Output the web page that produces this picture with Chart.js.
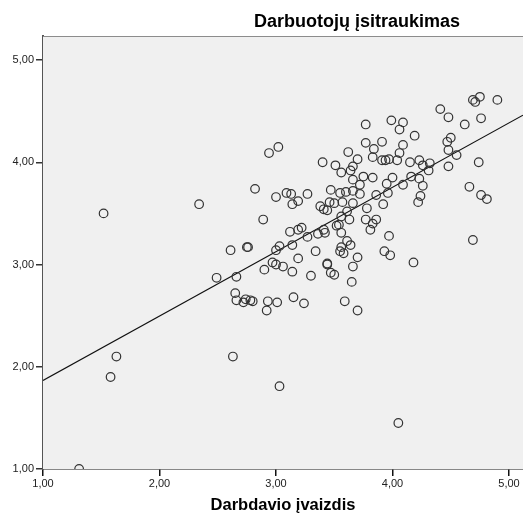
<!DOCTYPE html>
<html>
<head>
<meta charset="utf-8">
<script src="https://cdn.jsdelivr.net/npm/chart.js@4/dist/chart.umd.min.js"></script>
<style>
  body { margin: 0; background: #fff; }
  #wrap { width: 523px; height: 515px; }
</style>
</head>
<body>
<div id="wrap"><canvas id="scatterChart"></canvas></div>
<script>
// Darbdavio ivaizdis (x) vs Darbuotoju isitraukimas (y), one pair per respondent
var imageScores = [
    1.31, 1.52, 1.63, 1.58, 2.34, 2.61, 2.49, 2.66, 2.65, 2.66,
    2.63, 3.03, 4.05, 2.94, 3.02, 2.82, 3.00, 3.09, 3.13, 3.14,
    3.19, 3.27, 3.40, 3.51, 3.56, 3.62, 3.66, 3.64, 3.70, 3.77,
    3.84, 3.83, 3.66, 3.75, 3.72, 3.83, 3.47, 3.55, 3.60, 3.66,
    3.72, 3.86, 3.66, 3.46, 3.50, 3.57, 3.38, 3.41, 3.44, 3.78,
    2.89, 3.12, 3.19, 3.22, 3.27, 3.36, 3.41, 3.42, 3.52, 3.54,
    3.56, 3.61, 3.63, 3.56, 3.77, 3.83, 3.81, 3.86, 2.75, 3.00,
    3.03, 3.14, 3.34, 3.61, 3.64, 3.56, 3.55, 3.58, 3.19, 2.97,
    3.00, 3.06, 2.90, 3.14, 3.44, 3.47, 3.50, 3.70, 3.66, 3.30,
    3.65, 2.72, 2.74, 2.78, 2.80, 2.93, 3.01, 2.92, 3.15, 3.24,
    3.59, 3.70, 3.77, 4.41, 4.48, 4.69, 4.71, 4.75, 4.90, 4.76,
    4.62, 3.99, 4.09, 4.06, 4.19, 3.91, 4.09, 3.91, 3.94, 3.97,
    4.04, 4.06, 4.15, 4.23, 4.26, 4.32, 4.31, 4.47, 4.50, 4.48,
    4.55, 4.48, 4.74, 4.66, 4.76, 4.81, 4.00, 3.95, 4.09, 4.16,
    4.23, 4.26, 4.24, 4.22, 3.96, 3.92, 3.97, 3.93, 3.98, 4.18,
    4.69, 3.44, 2.76
];
var engagementScores = [
    1.00, 3.50, 2.10, 1.90, 3.59, 3.14, 2.87, 2.88, 2.72, 2.65,
    2.10, 1.81, 1.45, 4.09, 4.15, 3.74, 3.66, 3.70, 3.69, 3.59,
    3.62, 3.69, 4.00, 3.97, 3.90, 4.10, 3.96, 3.92, 4.03, 4.19,
    4.13, 4.05, 3.83, 3.86, 3.78, 3.85, 3.73, 3.70, 3.71, 3.72,
    3.69, 3.68, 3.60, 3.61, 3.60, 3.61, 3.57, 3.54, 3.53, 3.55,
    3.44, 3.32, 3.34, 3.36, 3.27, 3.30, 3.34, 3.31, 3.38, 3.39,
    3.47, 3.52, 3.44, 3.31, 3.44, 3.40, 3.34, 3.44, 3.17, 3.14,
    3.18, 3.19, 3.13, 3.23, 3.19, 3.17, 3.13, 3.11, 3.06, 3.02,
    3.00, 2.98, 2.95, 2.93, 3.01, 2.92, 2.90, 3.07, 2.98, 2.89,
    2.83, 2.63, 2.66, 2.65, 2.64, 2.64, 2.63, 2.55, 2.68, 2.62,
    2.64, 2.55, 4.37, 4.52, 4.44, 4.61, 4.59, 4.64, 4.61, 4.43,
    4.37, 4.41, 4.39, 4.32, 4.26, 4.20, 4.17, 4.02, 4.02, 4.03,
    4.02, 4.09, 4.00, 4.02, 3.97, 3.99, 3.92, 4.20, 4.24, 4.12,
    4.07, 3.96, 4.00, 3.76, 3.68, 3.64, 3.85, 3.79, 3.78, 3.86,
    3.84, 3.77, 3.67, 3.61, 3.70, 3.59, 3.28, 3.13, 3.09, 3.02,
    3.24, 3.00, 3.17
];

var xTicks = [1, 2, 3, 4, 5];
var yTicks = [1, 2, 3, 4, 5];

// fit line
var fitIntercept = 1.235;
var fitSlope = 0.63;

var xMin = 1, xMax = 5.12;
var yMin = 1, yMax = 5.235;

var points = imageScores.map(function (x, i) {
    return { x: x, y: engagementScores[i] };
});
var fitLine = [
    { x: xMin, y: fitIntercept + fitSlope * xMin },
    { x: xMax, y: fitIntercept + fitSlope * xMax }
];

function commaLabel(v) {
    return v.toFixed(2).replace('.', ',');
}

var plotFrame = {
    id: 'plotFrame',
    beforeDatasetsDraw: function (chart) {
        var a = chart.chartArea, c = chart.ctx;
        c.save();
        c.fillStyle = '#f0f0f0';
        c.fillRect(a.left, a.top, a.right - a.left, a.bottom - a.top);
        c.strokeStyle = '#8c8c8c';
        c.lineWidth = 1;
        c.beginPath();
        c.moveTo(a.left, a.top + 0.5);
        c.lineTo(a.right, a.top + 0.5);
        c.stroke();
        c.restore();
    },
    afterDraw: function (chart) {
        var a = chart.chartArea, c = chart.ctx;
        c.save();
        c.fillStyle = '#000';
        c.font = 'bold 18px "Liberation Sans", Arial, sans-serif';
        c.textAlign = 'center';
        c.textBaseline = 'middle';
        c.fillText('Darbuotojų įsitraukimas', a.left + (a.right - a.left) * 0.654, 22);
        c.restore();
    }
};

var ctx = document.getElementById('scatterChart').getContext('2d');
var chart = new Chart(ctx, {
    type: 'scatter',
    data: {
        datasets: [{
            label: 'Respondentai',
            data: points,
            pointRadius: 4.3,
            pointHoverRadius: 4.3,
            pointBorderWidth: 1.2,
            borderColor: '#333333',
            backgroundColor: 'rgba(0,0,0,0)'
        }, {
            type: 'line',
            label: 'Fit',
            data: fitLine,
            borderColor: '#111111',
            borderWidth: 1.2,
            pointRadius: 0,
            fill: false
        }]
    },
    options: {
        responsive: true,
        maintainAspectRatio: false,
        animation: false,
        layout: {
            autoPadding: false,
            padding: { top: 36, right: 0, bottom: 0, left: 0 }
        },
        plugins: {
            legend: { display: false },
            tooltip: { enabled: false }
        },
        scales: {
            x: {
                type: 'linear',
                min: xMin,
                max: xMax,
                afterBuildTicks: function (scale) {
                    scale.ticks = xTicks.map(function (v) { return { value: v }; });
                },
                afterFit: function (scale) {
                    scale.height = 46;
                    scale.paddingLeft = 0;
                    scale.paddingRight = 0;
                },
                border: { display: true, color: '#111', width: 1.5 },
                grid: { display: true, drawOnChartArea: false, drawTicks: true, tickLength: 7, color: '#111', lineWidth: 1.5 },
                ticks: {
                    padding: 1,
                    maxRotation: 0,
                    color: '#222',
                    font: { family: '"Liberation Sans", Arial, sans-serif', size: 11 },
                    callback: commaLabel
                },
                title: {
                    display: true,
                    text: 'Darbdavio įvaizdis',
                    color: '#000',
                    font: { family: '"Liberation Sans", Arial, sans-serif', size: 16.5, weight: 'bold' },
                    padding: { top: 4, bottom: 0 }
                }
            },
            y: {
                type: 'linear',
                min: yMin,
                max: yMax,
                afterBuildTicks: function (scale) {
                    scale.ticks = yTicks.map(function (v) { return { value: v }; });
                },
                afterFit: function (scale) {
                    scale.width = 43;
                    scale.paddingTop = 0;
                    scale.paddingBottom = 0;
                },
                border: { display: true, color: '#555', width: 2 },
                grid: { display: true, drawOnChartArea: false, drawTicks: true, tickLength: 7, color: '#333', lineWidth: 1.5 },
                ticks: {
                    padding: 2,
                    color: '#222',
                    font: { family: '"Liberation Sans", Arial, sans-serif', size: 11 },
                    callback: commaLabel
                }
            }
        }
    },
    plugins: [plotFrame]
});
</script>
</body>
</html>
